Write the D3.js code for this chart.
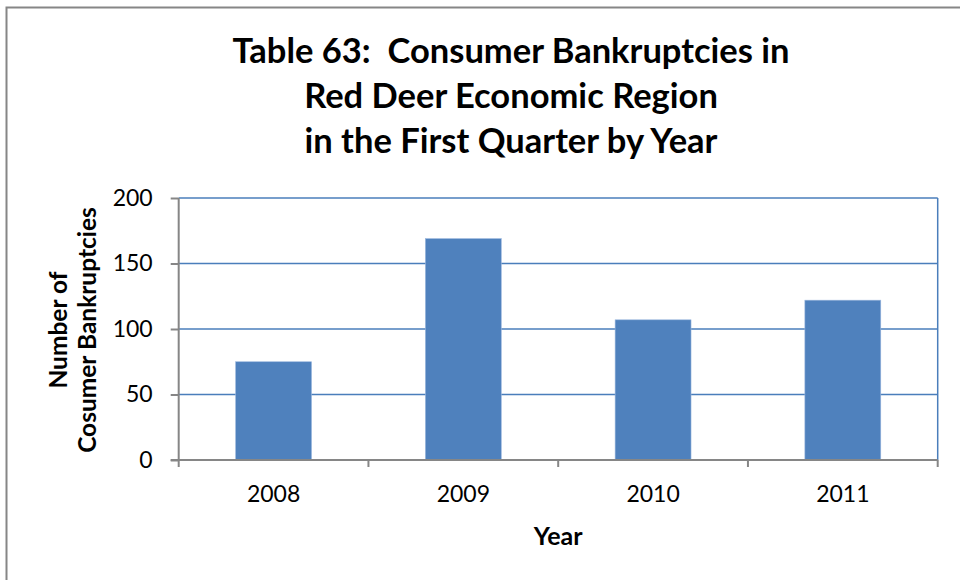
<!DOCTYPE html>
<html><head><meta charset="utf-8">
<script src="https://cdn.jsdelivr.net/npm/d3@7"></script>
<style>body{margin:0;background:#fff}svg{display:block}text{font-family:Lato,"Open Sans",sans-serif}</style>
</head><body>
<svg id="c" width="960" height="580"></svg>
<script>
const categories = ["2008", "2009", "2010", "2011"];
const values = [75, 169, 107, 122];
const yTicks = [0, 50, 100, 150, 200];
const titleLines = ["Table 63:  Consumer Bankruptcies in", "Red Deer Economic Region", "in the First Quarter by Year"];
const yTitleLines = ["Number of", "Cosumer Bankruptcies"];
const xTitle = "Year";

const svg = d3.select("#c");
const m = {left: 178.7, right: 937.7, top: 198, bottom: 460};

svg.append("rect").attr("x", 6.5).attr("y", 7.5).attr("width", 970).attr("height", 590)
  .attr("fill", "#fff").attr("stroke", "#868686").attr("stroke-width", 2);

const x = d3.scaleBand().domain(categories).range([m.left, m.right]).paddingInner(0.6).paddingOuter(0.3);
const xb = d3.scaleBand().domain(categories).range([m.left, m.right]);
const y = d3.scaleLinear().domain([0, 200]).range([m.bottom, m.top]);

// gridlines
svg.append("g").selectAll("line").data(yTicks.filter(d => d > 0)).join("line")
  .attr("x1", m.left).attr("x2", m.right).attr("y1", d => y(d)).attr("y2", d => y(d))
  .attr("stroke", "#4a7ebb").attr("stroke-width", 1.5);
// right border
svg.append("line").attr("x1", m.right).attr("x2", m.right).attr("y1", m.top).attr("y2", m.bottom)
  .attr("stroke", "#4a7ebb").attr("stroke-width", 1.5);

// bars
svg.append("g").selectAll("rect").data(values).join("rect")
  .attr("x", (d, i) => x(categories[i])).attr("width", x.bandwidth())
  .attr("y", d => y(d)).attr("height", d => y(0) - y(d))
  .attr("fill", "#4f81bd").attr("stroke", "#9bb7de").attr("stroke-width", 0.6);

// y axis
const yAxis = d3.axisLeft(y).tickValues(yTicks).tickSize(8).tickPadding(18);
const gy = svg.append("g").attr("transform", `translate(${m.left},0)`).call(yAxis);
gy.select(".domain").attr("stroke", "#868686").attr("stroke-width", 2).attr("d", `M0,${m.top}V${m.bottom}`);
gy.selectAll(".tick line").attr("stroke", "#868686").attr("stroke-width", 2);
gy.selectAll("text").attr("font-size", 23).attr("fill", "#000").style("font-family", "Lato");

// x axis
const xAxis = d3.axisBottom(xb).tickSize(0).tickPadding(26);
const gx = svg.append("g").attr("transform", `translate(0,${m.bottom})`).call(xAxis);
gx.select(".domain").attr("stroke", "#868686").attr("stroke-width", 2).attr("d", `M${m.left - 8},0H${m.right}`);
gx.selectAll("text").attr("font-size", 23).attr("fill", "#000").style("font-family", "Lato");
gx.append("g").selectAll("line").data(categories.concat(["end"])).join("line")
  .attr("x1", (d, i) => i < categories.length ? xb(d) : m.right)
  .attr("x2", (d, i) => i < categories.length ? xb(d) : m.right)
  .attr("y1", 0).attr("y2", 7).attr("stroke", "#868686").attr("stroke-width", 2);

// title
svg.append("g").selectAll("text").data(titleLines).join("text")
  .attr("x", 511).attr("y", (d, i) => 63 + i * 45)
  .attr("text-anchor", "middle").attr("font-weight", "bold").attr("font-size", 34.5).attr("fill", "#000")
  .style("white-space", "pre").attr("xml:space", "preserve")
  .text(d => d);

// y title
const cy = 330;
svg.append("g").selectAll("text").data(yTitleLines).join("text")
  .attr("transform", (d, i) => `translate(${67 + i * 29},${cy}) rotate(-90)`)
  .attr("text-anchor", "middle").attr("font-weight", "bold").attr("font-size", 24.5).attr("fill", "#000")
  .text(d => d);

// x title
svg.append("text").attr("x", (m.left + m.right) / 2).attr("y", 545)
  .attr("text-anchor", "middle").attr("font-weight", "bold").attr("font-size", 25).attr("fill", "#000")
  .text(xTitle);
</script>
</body></html>
